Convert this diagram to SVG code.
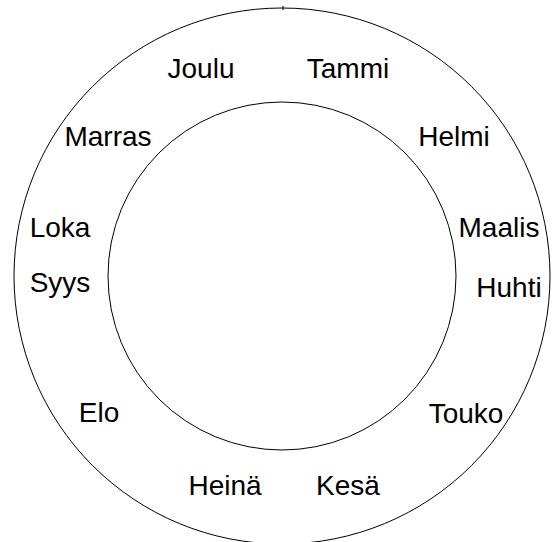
<svg xmlns="http://www.w3.org/2000/svg" width="556" height="542" viewBox="0 0 556 542">
<style>
.ring{fill:none;stroke:#000;stroke-width:1}
.lbl{font-family:"Liberation Sans",Arial,sans-serif;font-size:28px;fill:#000;text-anchor:middle}
</style>
<rect width="556" height="542" fill="#fff"/>
<g id="rings">
<circle id="outer" class="ring" cx="282" cy="276" r="268"/>
<circle id="inner" class="ring" cx="282" cy="276" r="174"/>
<line class="ring" x1="283" y1="6" x2="283" y2="10"/>
</g>
<g id="labels">
<g id="tammi"><text class="lbl" x="348" y="78">Tammi</text></g>
<g id="helmi"><text class="lbl" x="454" y="146">Helmi</text></g>
<g id="maalis"><text class="lbl" x="499" y="237">Maalis</text></g>
<g id="huhti"><text class="lbl" x="509" y="297">Huhti</text></g>
<g id="touko"><text class="lbl" x="466" y="423">Touko</text></g>
<g id="kesa"><text class="lbl" x="348" y="495">Kesä</text></g>
<g id="heina"><text class="lbl" x="225" y="495">Heinä</text></g>
<g id="elo"><text class="lbl" x="99" y="422">Elo</text></g>
<g id="syys"><text class="lbl" x="60" y="292">Syys</text></g>
<g id="loka"><text class="lbl" x="60" y="237">Loka</text></g>
<g id="marras"><text class="lbl" x="108" y="146">Marras</text></g>
<g id="joulu"><text class="lbl" x="201" y="78">Joulu</text></g>
</g>
<g id="connectors"></g>
</svg>
